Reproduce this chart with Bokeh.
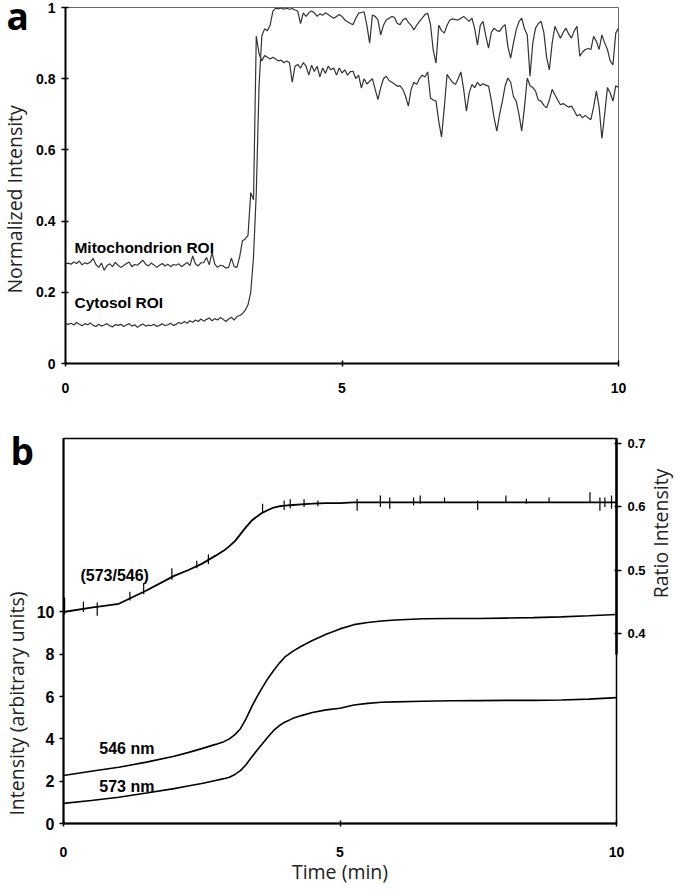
import math
from bokeh.plotting import figure
from bokeh.models import Range1d, LinearAxis, FixedTicker, Label, Plot
from bokeh.layouts import column, row
from bokeh.embed import file_html
from bokeh.resources import INLINE

# ---------------- Panel a data ----------------
time_a = [round(0.05 * i, 2) for i in range(201)]  # minutes

mito_roi = [
    0.280, 0.282, 0.279, 0.285, 0.281, 0.288, 0.277, 0.283, 0.280, 0.285, 0.295, 0.278, 0.270, 0.282, 0.262, 0.275, 0.280, 0.272, 0.284, 0.276,
    0.270, 0.275, 0.280, 0.285, 0.272, 0.278, 0.276, 0.283, 0.290, 0.279, 0.274, 0.282, 0.277, 0.270, 0.276, 0.281, 0.274, 0.279, 0.272, 0.278,
    0.276, 0.280, 0.272, 0.278, 0.284, 0.275, 0.302, 0.280, 0.274, 0.283, 0.283, 0.298, 0.277, 0.312, 0.279, 0.270, 0.276, 0.274, 0.268, 0.270,
    0.296, 0.272, 0.270, 0.300, 0.345, 0.350, 0.360, 0.480, 0.460, 0.920, 0.870, 0.850, 0.865, 0.860, 0.855, 0.860, 0.855, 0.850, 0.852, 0.845,
    0.850, 0.845, 0.790, 0.835, 0.840, 0.830, 0.845, 0.835, 0.810, 0.838, 0.820, 0.835, 0.805, 0.830, 0.815, 0.835, 0.825, 0.830, 0.810, 0.830,
    0.816, 0.825, 0.810, 0.820, 0.821, 0.800, 0.810, 0.774, 0.800, 0.785, 0.793, 0.800, 0.770, 0.741, 0.775, 0.800, 0.807, 0.795, 0.790, 0.785,
    0.779, 0.780, 0.770, 0.750, 0.723, 0.770, 0.790, 0.784, 0.800, 0.810, 0.805, 0.819, 0.746, 0.740, 0.737, 0.680, 0.636, 0.720, 0.812, 0.800,
    0.790, 0.784, 0.800, 0.819, 0.770, 0.709, 0.760, 0.784, 0.775, 0.790, 0.780, 0.786, 0.782, 0.779, 0.740, 0.690, 0.653, 0.700, 0.737, 0.780,
    0.802, 0.790, 0.750, 0.737, 0.700, 0.653, 0.720, 0.802, 0.780, 0.775, 0.765, 0.740, 0.737, 0.725, 0.718, 0.740, 0.770, 0.755, 0.740, 0.727,
    0.730, 0.725, 0.720, 0.723, 0.710, 0.695, 0.700, 0.690, 0.697, 0.690, 0.685, 0.720, 0.765, 0.720, 0.632, 0.700, 0.775, 0.760, 0.737, 0.780,
    0.775,
]

cytosol_roi = [
    0.112, 0.110, 0.113, 0.108, 0.115, 0.110, 0.106, 0.112, 0.109, 0.114, 0.107, 0.104, 0.110, 0.105, 0.108, 0.112, 0.106, 0.103, 0.109, 0.107,
    0.110, 0.104, 0.108, 0.112, 0.105, 0.109, 0.102, 0.107, 0.111, 0.105, 0.108, 0.106, 0.110, 0.104, 0.107, 0.112, 0.106, 0.109, 0.113, 0.107,
    0.110, 0.115, 0.112, 0.118, 0.113, 0.120, 0.116, 0.122, 0.118, 0.125, 0.119, 0.124, 0.128, 0.120, 0.126, 0.122, 0.129, 0.124, 0.118, 0.125,
    0.130, 0.122, 0.132, 0.135, 0.140, 0.150, 0.165, 0.200, 0.300, 0.480, 0.780, 0.920, 0.940, 0.935, 0.950, 0.990, 0.998, 0.996, 0.999, 0.995,
    0.998, 0.995, 0.997, 0.993, 0.990, 0.955, 0.985, 0.975, 0.985, 0.990, 0.985, 0.975, 0.982, 0.978, 0.985, 0.980, 0.975, 0.970, 0.975, 0.980,
    0.975, 0.965, 0.960, 0.955, 0.952, 0.970, 0.984, 0.986, 0.988, 0.950, 0.900, 0.979, 0.975, 0.965, 0.923, 0.950, 0.965, 0.970, 0.975, 0.972,
    0.955, 0.952, 0.965, 0.970, 0.958, 0.950, 0.937, 0.950, 0.961, 0.970, 0.980, 0.984, 0.952, 0.880, 0.844, 0.950, 0.935, 0.928, 0.950, 0.965,
    0.968, 0.966, 0.965, 0.970, 0.975, 0.968, 0.961, 0.970, 0.940, 0.895, 0.950, 0.961, 0.920, 0.886, 0.930, 0.942, 0.935, 0.933, 0.945, 0.952,
    0.890, 0.858, 0.900, 0.937, 0.960, 0.970, 0.940, 0.923, 0.807, 0.900, 0.942, 0.955, 0.961, 0.930, 0.860, 0.825, 0.900, 0.947, 0.930, 0.914,
    0.930, 0.942, 0.925, 0.914, 0.935, 0.947, 0.863, 0.875, 0.882, 0.885, 0.882, 0.919, 0.905, 0.882, 0.923, 0.900, 0.882, 0.850, 0.839, 0.928,
    0.942,
]

ticks_a_y = [0, 0.2, 0.4, 0.6, 0.8, 1]
ticks_x = [0, 5, 10]

# ---------------- Panel b data ----------------
time_b = [0, 0.5, 1, 1.5, 2, 2.25, 2.5, 2.75, 2.9, 3.0, 3.1, 3.2, 3.3, 3.4, 3.5, 3.6, 3.7, 3.8, 3.9,
          4.0, 4.15, 4.3, 4.5, 4.75, 5.0, 5.25, 5.5, 5.75, 6.0, 6.5, 7.0, 7.5, 8.0, 8.5, 9.0, 9.5, 10.0]

int_546 = [2.27, 2.47, 2.66, 2.90, 3.18, 3.35, 3.54, 3.74, 3.87, 4.00, 4.20, 4.48, 4.95, 5.50, 6.00, 6.45, 6.87, 7.23, 7.57,
           7.86, 8.15, 8.38, 8.65, 8.95, 9.20, 9.40, 9.50, 9.57, 9.62, 9.68, 9.69, 9.69, 9.71, 9.73, 9.77, 9.82, 9.88]

int_573 = [0.95, 1.09, 1.24, 1.44, 1.65, 1.77, 1.89, 2.03, 2.12, 2.19, 2.32, 2.50, 2.78, 3.13, 3.46, 3.78, 4.10, 4.40, 4.62,
           4.79, 4.97, 5.10, 5.25, 5.37, 5.45, 5.60, 5.68, 5.73, 5.75, 5.78, 5.80, 5.81, 5.82, 5.82, 5.84, 5.88, 5.95]

ratio_573_546 = [0.434, 0.441, 0.447, 0.468, 0.491, 0.500, 0.510, 0.523, 0.531, 0.538, 0.546, 0.557, 0.568, 0.578, 0.585, 0.591, 0.595, 0.599, 0.601,
                 0.602, 0.603, 0.604, 0.605, 0.606, 0.606, 0.607, 0.607, 0.607, 0.607, 0.607, 0.607, 0.607, 0.607, 0.607, 0.607, 0.607, 0.607]

spike_t = [0.02, 0.36, 0.61, 1.2, 1.45, 1.96, 2.41, 2.62, 3.6, 3.99, 4.1, 4.35, 4.6, 5.31, 5.73, 5.9, 6.33, 6.45, 6.89, 7.49,
           8.0, 8.37, 8.78, 9.52, 9.7, 9.79, 9.91]
spike_lo = [0.430, 0.434, 0.428, 0.452, 0.462, 0.485, 0.503, 0.510, 0.590, 0.595, 0.598, 0.600, 0.601, 0.594, 0.600, 0.597, 0.602, 0.605,
            0.607, 0.595, 0.607, 0.605, 0.607, 0.607, 0.594, 0.600, 0.597]
spike_hi = [0.457, 0.450, 0.449, 0.466, 0.480, 0.503, 0.515, 0.525, 0.605, 0.610, 0.612, 0.612, 0.610, 0.613, 0.618, 0.615, 0.615, 0.618,
            0.615, 0.610, 0.618, 0.613, 0.615, 0.623, 0.615, 0.615, 0.618]

ticks_b_left = [0, 2, 4, 6, 8, 10]
ticks_b_right = [0.4, 0.5, 0.6, 0.7]

TICK_FONT = "Liberation Sans Narrow, Liberation Sans"
TITLE_FONT = "Open Sans"
TITLE_SIZE = "19.5px"
TITLE_COLOR = "#222222"

# layout (pixels)
HA, HB = 404, 484
A_TOP, A_BOTTOM = 7, 41
B_TOP, B_BOTTOM = 34, 65
Y_A = (0, 1)
Y_B = (0, 18.2)

CAN_UNALIGN = "frame_align" in Plot.properties()


def style_axis(ax, size, standoff, t_in, t_out, lw=2):
    ax.axis_line_width = lw
    ax.axis_line_color = "black"
    ax.major_tick_line_color = "black"
    ax.major_tick_line_width = 1.5
    ax.major_tick_in = t_in
    ax.major_tick_out = t_out
    ax.minor_tick_line_color = None
    ax.major_label_text_font = TICK_FONT
    ax.major_label_text_font_style = "bold"
    ax.major_label_text_font_size = size
    ax.major_label_text_color = "black"
    ax.major_label_standoff = standoff


def side_strip(w, h, yr, top, bottom):
    """A plain figure that holds the outer texts, in the same y units as its neighbour."""
    lo, hi = yr
    if CAN_UNALIGN:
        # let the frame fill the whole canvas, keeping the neighbour's y scale
        per_px = (hi - lo) / (h - top - bottom)
        yr2 = (lo - bottom * per_px, hi + top * per_px)
        s = figure(width=w, height=h, x_range=Range1d(0, w), y_range=Range1d(*yr2),
                   x_axis_type=None, y_axis_type=None, output_backend="svg",
                   toolbar_location=None, min_border=0)
        s.frame_align = False
    else:
        s = figure(width=w, height=h, x_range=Range1d(0, w), y_range=Range1d(lo, hi),
                   x_axis_type=None, y_axis_type=None, output_backend="svg",
                   toolbar_location=None, min_border_left=0, min_border_right=0,
                   min_border_top=top, min_border_bottom=bottom)
    s.outline_line_color = None
    s.grid.visible = False
    return s


# ---------------- Panel a ----------------
pa = figure(width=642, height=HA, x_range=Range1d(0, 10), y_range=Range1d(*Y_A),
            output_backend="svg", toolbar_location=None,
            min_border_left=28, min_border_right=57, min_border_top=A_TOP, min_border_bottom=A_BOTTOM)
pa.grid.visible = False
pa.outline_line_color = "#666666"
pa.outline_line_width = 1

pa.yaxis.ticker = FixedTicker(ticks=ticks_a_y)
pa.yaxis.major_label_overrides = {0: "0", 0.2: "0.2", 0.4: "0.4", 0.6: "0.6", 0.8: "0.8", 1: "1"}
style_axis(pa.yaxis[0], "14px", 6, 3, 4)
pa.xaxis.ticker = FixedTicker(ticks=ticks_x)
style_axis(pa.xaxis[0], "14px", 16, 3, 3)

pa.line(time_a, mito_roi, line_color="#333333", line_width=1.2)
pa.line(time_a, cytosol_roi, line_color="#333333", line_width=1.2)

pa.add_layout(Label(x=0.162, y=0.325, text="Mitochondrion ROI", text_font="Liberation Sans",
                    text_font_style="bold", text_font_size="15.5px", text_color="black",
                    text_align="left", text_baseline="middle"))
pa.add_layout(Label(x=0.162, y=0.171, text="Cytosol ROI", text_font="Liberation Sans",
                    text_font_style="bold", text_font_size="15.5px", text_color="black",
                    text_align="left", text_baseline="middle"))

sa = side_strip(33, HA, Y_A, A_TOP, A_BOTTOM)
sa.add_layout(Label(x=6, y=0.977, text="a", text_font=TITLE_FONT, text_font_style="bold",
                    text_font_size="37px", text_color="black", text_align="left", text_baseline="alphabetic"))
sa.add_layout(Label(x=14, y=0.461, text="Normalized Intensity", angle=math.pi / 2,
                    text_font=TITLE_FONT, text_font_size=TITLE_SIZE, text_color=TITLE_COLOR,
                    text_align="center", text_baseline="middle"))

# ---------------- Panel b ----------------
pb = figure(width=615, height=HB, x_range=Range1d(0, 10), y_range=Range1d(*Y_B),
            output_backend="svg", toolbar_location=None,
            min_border_left=28, min_border_right=31, min_border_top=B_TOP, min_border_bottom=B_BOTTOM)
pb.grid.visible = False
pb.outline_line_color = "black"
pb.outline_line_width = 1.5
pb.extra_y_ranges = {"ratio": Range1d(0.1, 0.708)}

pb.yaxis.ticker = FixedTicker(ticks=ticks_b_left)
style_axis(pb.yaxis[0], "16px", 5, 0, 4)
pb.xaxis.ticker = FixedTicker(ticks=ticks_x)
style_axis(pb.xaxis[0], "14px", 20, 3, 3)
pb.xaxis.axis_label = "Time (min)"
pb.xaxis.axis_label_text_font = TITLE_FONT
pb.xaxis.axis_label_text_font_style = "normal"
pb.xaxis.axis_label_text_font_size = TITLE_SIZE
pb.xaxis.axis_label_text_color = TITLE_COLOR
pb.xaxis.axis_label_standoff = -2

right_axis = LinearAxis(y_range_name="ratio", ticker=FixedTicker(ticks=ticks_b_right), bounds=(0.367, 0.708))
style_axis(right_axis, "13px", 6, 2, 5, lw=2.5)
pb.add_layout(right_axis, "right")

pb.line(time_b, int_546, line_color="black", line_width=1.6)
pb.line(time_b, int_573, line_color="black", line_width=1.6)
pb.line(time_b, ratio_573_546, line_color="black", line_width=1.8, y_range_name="ratio")
pb.segment(x0=spike_t, y0=spike_lo, x1=spike_t, y1=spike_hi, line_color="black", line_width=1.2,
           y_range_name="ratio")

for txt, lx, ly in [("(573/546)", 0.306, 11.73), ("546 nm", 0.647, 3.55), ("573 nm", 0.647, 1.75)]:
    pb.add_layout(Label(x=lx, y=ly, text=txt, text_font="Liberation Sans", text_font_style="bold",
                        text_font_size="16px", text_color="black", text_align="left", text_baseline="middle"))

sb = side_strip(33, HB, Y_B, B_TOP, B_BOTTOM)
sb.add_layout(Label(x=10, y=17.64, text="b", text_font=TITLE_FONT, text_font_style="bold",
                    text_font_size="37px", text_color="black", text_align="left", text_baseline="alphabetic"))
sb.add_layout(Label(x=15.5, y=5.67, text="Intensity (arbitrary units)", angle=math.pi / 2,
                    text_font=TITLE_FONT, text_font_size=TITLE_SIZE, text_color=TITLE_COLOR,
                    text_align="center", text_baseline="middle"))

sr = side_strip(27, HB, Y_B, B_TOP, B_BOTTOM)
sr.add_layout(Label(x=12, y=13.71, text="Ratio Intensity", angle=math.pi / 2,
                    text_font=TITLE_FONT, text_font_size=TITLE_SIZE, text_color=TITLE_COLOR,
                    text_align="center", text_baseline="middle"))

layout = column(row(sa, pa, spacing=0), row(sb, pb, sr, spacing=0), spacing=0)
open("out.html", "w").write(file_html(layout, INLINE))
